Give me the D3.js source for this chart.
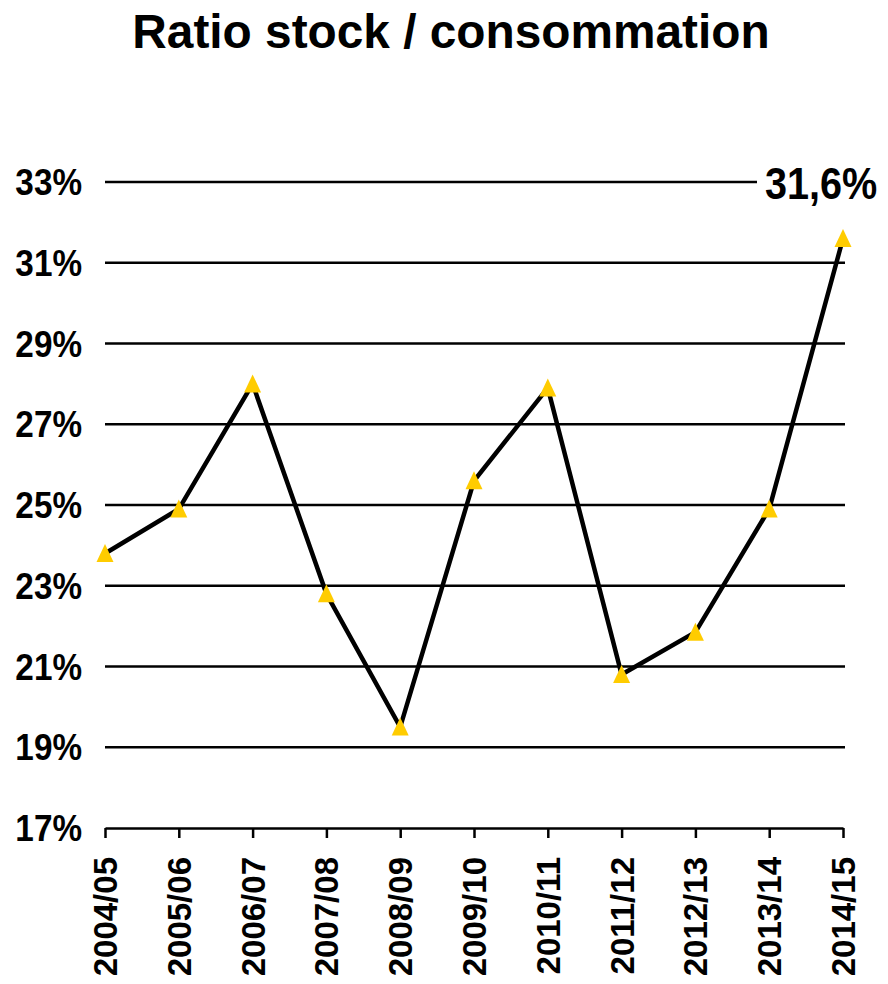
<!DOCTYPE html>
<html>
<head>
<meta charset="utf-8">
<script src="https://cdn.jsdelivr.net/npm/d3@7"></script>
<style>
  body { margin: 0; background: #fff; }
  text { font-family: "Liberation Sans", Arial, sans-serif; font-weight: bold; fill: #000; }
</style>
</head>
<body>
<div id="chart"></div>
<script>
// data
var seasons = ["2004/05", "2005/06", "2006/07", "2007/08", "2008/09", "2009/10",
               "2010/11", "2011/12", "2012/13", "2013/14", "2014/15"];
var ratio = [23.8, 24.9, 28.0, 22.8, 19.5, 25.6, 27.9, 20.8, 21.85, 24.9, 31.6];
var yTicks = [17, 19, 21, 23, 25, 27, 29, 31, 33];
var lastLabel = "31,6%";

var W = 888, H = 984;

var svg = d3.select("#chart")
    .append("svg")
    .attr("width", W)
    .attr("height", H);

// scales
var x = d3.scalePoint()
    .domain(seasons)
    .range([105, 843]);

var y = d3.scaleLinear()
    .domain([17, 33])
    .range([828, 182]);

// title
svg.append("text")
    .attr("x", 451)
    .attr("y", 48)
    .attr("text-anchor", "middle")
    .style("font-size", "47.8px")
    .text("Ratio stock / consommation");

// horizontal grid lines
svg.selectAll(".grid")
    .data(yTicks.filter(function (d) { return d > 17; }))
    .enter()
    .append("line")
    .attr("class", "grid")
    .attr("x1", 105)
    .attr("x2", 845)
    .attr("y1", function (d) { return y(d); })
    .attr("y2", function (d) { return y(d); })
    .attr("stroke", "#000")
    .attr("stroke-width", 2.5);

// y labels
svg.selectAll(".ylab")
    .data(yTicks)
    .enter()
    .append("text")
    .attr("class", "ylab")
    .attr("transform", function (d) { return "translate(82," + (y(d) + 13) + ") scale(0.9,1)"; })
    .attr("text-anchor", "end")
    .style("font-size", "37px")
    .text(function (d) { return d + "%"; });

// x axis
var xAxis = svg.append("g")
    .attr("transform", "translate(0," + y(17) + ")")
    .call(d3.axisBottom(x).tickSize(10).tickSizeOuter(0).tickFormat(""));
xAxis.select(".domain").attr("stroke", "#000").attr("stroke-width", 2.5);
xAxis.selectAll(".tick line").attr("stroke", "#000").attr("stroke-width", 2.5);

svg.selectAll(".xlab")
    .data(seasons)
    .enter()
    .append("text")
    .attr("class", "xlab")
    .attr("transform", function (d) { return "translate(" + (x(d) + 12) + ",857) rotate(-90)"; })
    .attr("text-anchor", "end")
    .style("font-size", "33px")
    .text(function (d) { return d; });

// line
var line = d3.line()
    .x(function (d, i) { return x(seasons[i]); })
    .y(function (d) { return y(d); });

svg.append("path")
    .datum(ratio)
    .attr("d", line)
    .attr("fill", "none")
    .attr("stroke", "#000")
    .attr("stroke-width", 4.5)
    .attr("stroke-linejoin", "miter");

// triangle markers
svg.selectAll(".mark")
    .data(ratio)
    .enter()
    .append("path")
    .attr("class", "mark")
    .attr("d", "M0,-9.5L8.5,8.5L-8.5,8.5Z")
    .attr("transform", function (d, i) { return "translate(" + x(seasons[i]) + "," + y(d) + ")"; })
    .attr("fill", "#FFCC00");

// last value label (white box hides grid line behind it)
var lbl = svg.append("g");
lbl.append("rect")
    .attr("x", 757)
    .attr("y", 165)
    .attr("width", W - 757)
    .attr("height", 40)
    .attr("fill", "#fff");
lbl.append("text")
    .attr("transform", "translate(765,199) scale(0.9,1)")
    .style("font-size", "44px")
    .text(lastLabel);
</script>
</body>
</html>
